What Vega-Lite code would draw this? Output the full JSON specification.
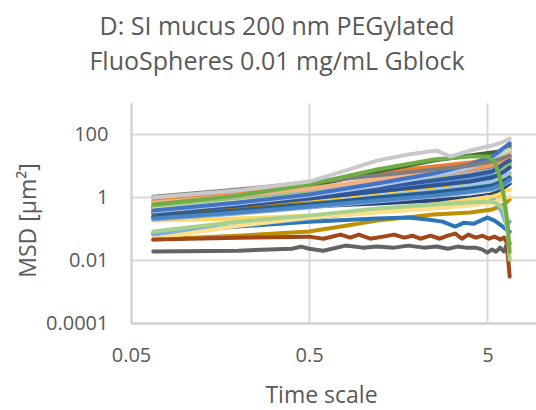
{
"$schema": "https://vega.github.io/schema/vega-lite/v6.json",
"autosize": "none",
"padding": {"left": 131, "top": 103, "right": 0, "bottom": 87},
"width": 410,
"height": 220,
"background": "white",
"title": {"text": ["D: SI mucus 200 nm PEGylated", "FluoSpheres 0.01 mg/mL Gblock"], "fontSize": 25, "font": "Open Sans", "fontWeight": "normal", "color": "#595959", "lineHeight": 35, "anchor": "middle", "frame": "group", "dx": -59, "baseline": "bottom", "offset": 3},
"config": {"view": {"stroke": null}, "font": "Open Sans"},
"data": {"values": [
{"s":"s01","t":0.0667,"v":0.406},{"s":"s01","t":0.2,"v":0.73},{"s":"s01","t":0.5,"v":1.31},{"s":"s01","t":1.2,"v":2.73},{"s":"s01","t":2.5,"v":4.91},{"s":"s01","t":4,"v":7.08},{"s":"s01","t":5.3,"v":9.5},{"s":"s01","t":5.8,"v":11.8},{"s":"s01","t":6.2,"v":14.7},{"s":"s01","t":6.67,"v":18.4},
{"s":"s02","t":0.0667,"v":0.785},{"s":"s02","t":0.2,"v":1.31},{"s":"s02","t":0.5,"v":2.36},{"s":"s02","t":1.2,"v":6.12},{"s":"s02","t":2.5,"v":9.5},{"s":"s02","t":4,"v":12.7},{"s":"s02","t":5.3,"v":17.1},{"s":"s02","t":5.8,"v":19.8},{"s":"s02","t":6.2,"v":22.9},{"s":"s02","t":6.67,"v":28.5},
{"s":"s03","t":0.0667,"v":0.506},{"s":"s03","t":0.2,"v":0.845},{"s":"s03","t":0.5,"v":1.41},{"s":"s03","t":1.2,"v":2.36},{"s":"s03","t":2.5,"v":3.66},{"s":"s03","t":4,"v":4.56},{"s":"s03","t":5.3,"v":6.58},{"s":"s03","t":5.8,"v":10.2},{"s":"s03","t":6.2,"v":12.7},{"s":"s03","t":6.67,"v":15.9},
{"s":"s04","t":0.0667,"v":0.303},{"s":"s04","t":0.2,"v":0.544},{"s":"s04","t":0.5,"v":0.909},{"s":"s04","t":1.2,"v":1.52},{"s":"s04","t":2.5,"v":2.04},{"s":"s04","t":4,"v":2.73},{"s":"s04","t":4.7,"v":2.54},{"s":"s04","t":5.3,"v":1.52},{"s":"s04","t":5.8,"v":1.05},{"s":"s04","t":6.2,"v":2.36},{"s":"s04","t":6.67,"v":5.28},
{"s":"s05","t":0.0667,"v":0.261},{"s":"s05","t":0.2,"v":0.47},{"s":"s05","t":0.5,"v":0.845},{"s":"s05","t":1.2,"v":1.52},{"s":"s05","t":2.5,"v":2.54},{"s":"s05","t":4,"v":3.66},{"s":"s05","t":5.3,"v":4.91},{"s":"s05","t":5.8,"v":6.58},{"s":"s05","t":6.2,"v":7.62},{"s":"s05","t":6.67,"v":10.2},
{"s":"s06","t":0.0667,"v":0.506},{"s":"s06","t":0.2,"v":0.977},{"s":"s06","t":0.5,"v":2.19},{"s":"s06","t":1.2,"v":6.58},{"s":"s06","t":2.5,"v":14.7},{"s":"s06","t":4,"v":21.3},{"s":"s06","t":5.3,"v":26.5},{"s":"s06","t":5.8,"v":28.5},{"s":"s06","t":6.2,"v":30.7},{"s":"s06","t":6.67,"v":35.6},
{"s":"s07","t":0.0667,"v":0.226},{"s":"s07","t":0.2,"v":0.377},{"s":"s07","t":0.5,"v":0.506},{"s":"s07","t":1.2,"v":0.63},{"s":"s07","t":2.5,"v":0.785},{"s":"s07","t":4,"v":0.977},{"s":"s07","t":5.3,"v":1.22},{"s":"s07","t":5.8,"v":1.52},{"s":"s07","t":6.2,"v":2.04},{"s":"s07","t":6.67,"v":2.73},
{"s":"s08","t":0.0667,"v":0.437},{"s":"s08","t":0.2,"v":0.785},{"s":"s08","t":0.5,"v":1.41},{"s":"s08","t":1.2,"v":2.73},{"s":"s08","t":2.5,"v":5.28},{"s":"s08","t":4,"v":8.83},{"s":"s08","t":5.3,"v":15.9},{"s":"s08","t":5.8,"v":22.9},{"s":"s08","t":6.2,"v":33.1},{"s":"s08","t":6.67,"v":44.3},
{"s":"s09","t":0.0667,"v":0.0187},{"s":"s09","t":0.2,"v":0.02},{"s":"s09","t":0.4,"v":0.023},{"s":"s09","t":0.45,"v":0.027},{"s":"s09","t":0.5,"v":0.023},{"s":"s09","t":0.6,"v":0.02},{"s":"s09","t":0.8,"v":0.029},{"s":"s09","t":1.0,"v":0.025},{"s":"s09","t":1.2,"v":0.027},{"s":"s09","t":1.5,"v":0.025},{"s":"s09","t":1.8,"v":0.029},{"s":"s09","t":2.2,"v":0.025},{"s":"s09","t":2.6,"v":0.027},{"s":"s09","t":3.0,"v":0.023},{"s":"s09","t":3.4,"v":0.027},{"s":"s09","t":3.8,"v":0.025},{"s":"s09","t":4.3,"v":0.025},{"s":"s09","t":4.7,"v":0.0217},{"s":"s09","t":5.0,"v":0.0174},{"s":"s09","t":5.3,"v":0.0217},{"s":"s09","t":5.6,"v":0.0187},{"s":"s09","t":5.9,"v":0.025},{"s":"s09","t":6.2,"v":0.0187},{"s":"s09","t":6.4,"v":0.029},{"s":"s09","t":6.67,"v":0.034},
{"s":"s10","t":0.0667,"v":0.045},{"s":"s10","t":0.2,"v":0.06},{"s":"s10","t":0.5,"v":0.081},{"s":"s10","t":0.8,"v":0.125},{"s":"s10","t":1.2,"v":0.181},{"s":"s10","t":2.5,"v":0.281},{"s":"s10","t":4,"v":0.326},{"s":"s10","t":5.3,"v":0.406},{"s":"s10","t":6.2,"v":0.585},{"s":"s10","t":6.67,"v":0.845},
{"s":"s11","t":0.0667,"v":0.07},{"s":"s11","t":0.2,"v":0.117},{"s":"s11","t":0.5,"v":0.168},{"s":"s11","t":1.2,"v":0.21},{"s":"s11","t":1.8,"v":0.226},{"s":"s11","t":2.3,"v":0.195},{"s":"s11","t":2.8,"v":0.168},{"s":"s11","t":3.3,"v":0.117},{"s":"s11","t":3.7,"v":0.156},{"s":"s11","t":4.2,"v":0.145},{"s":"s11","t":5,"v":0.226},{"s":"s11","t":5.5,"v":0.181},{"s":"s11","t":6,"v":0.125},{"s":"s11","t":6.4,"v":0.094},{"s":"s11","t":6.67,"v":0.081},
{"s":"s12","t":0.0667,"v":0.377},{"s":"s12","t":0.2,"v":0.63},{"s":"s12","t":0.5,"v":1.13},{"s":"s12","t":1.2,"v":2.04},{"s":"s12","t":2.5,"v":3.4},{"s":"s12","t":4,"v":4.91},{"s":"s12","t":5.3,"v":6.58},{"s":"s12","t":5.8,"v":8.2},{"s":"s12","t":6.2,"v":10.2},{"s":"s12","t":6.67,"v":12.7},
{"s":"s13","t":0.0667,"v":0.63},{"s":"s13","t":0.2,"v":1.05},{"s":"s13","t":0.5,"v":1.76},{"s":"s13","t":1.2,"v":3.16},{"s":"s13","t":2.5,"v":5.28},{"s":"s13","t":4,"v":7.62},{"s":"s13","t":5.3,"v":10.2},{"s":"s13","t":5.8,"v":12.7},{"s":"s13","t":6.2,"v":15.9},{"s":"s13","t":6.67,"v":19.8},
{"s":"s14","t":0.0667,"v":0.544},{"s":"s14","t":0.2,"v":0.909},{"s":"s14","t":0.5,"v":1.52},{"s":"s14","t":1.2,"v":2.73},{"s":"s14","t":2.5,"v":4.24},{"s":"s14","t":4,"v":5.69},{"s":"s14","t":5.3,"v":7.08},{"s":"s14","t":5.8,"v":5.28},{"s":"s14","t":6.2,"v":8.83},{"s":"s14","t":6.67,"v":13.7},
{"s":"s15","t":0.0667,"v":0.281},{"s":"s15","t":0.2,"v":0.437},{"s":"s15","t":0.5,"v":0.678},{"s":"s15","t":1.2,"v":1.13},{"s":"s15","t":2.5,"v":1.63},{"s":"s15","t":4,"v":2.19},{"s":"s15","t":5.3,"v":2.73},{"s":"s15","t":5.8,"v":3.16},{"s":"s15","t":6.2,"v":3.66},{"s":"s15","t":6.67,"v":4.24},
{"s":"s16","t":0.0667,"v":0.065},{"s":"s16","t":0.2,"v":0.125},{"s":"s16","t":0.5,"v":0.21},{"s":"s16","t":1.2,"v":0.351},{"s":"s16","t":2.5,"v":0.544},{"s":"s16","t":4,"v":0.73},{"s":"s16","t":5,"v":1.05},{"s":"s16","t":5.5,"v":0.845},{"s":"s16","t":6,"v":0.351},{"s":"s16","t":6.4,"v":0.135},{"s":"s16","t":6.67,"v":0.168},
{"s":"s17","t":0.0667,"v":0.47},{"s":"s17","t":0.2,"v":0.785},{"s":"s17","t":0.5,"v":1.31},{"s":"s17","t":1.2,"v":2.36},{"s":"s17","t":2.5,"v":3.66},{"s":"s17","t":4,"v":4.91},{"s":"s17","t":5.3,"v":6.58},{"s":"s17","t":5.8,"v":8.2},{"s":"s17","t":6.2,"v":9.5},{"s":"s17","t":6.67,"v":11.8},
{"s":"s18","t":0.0667,"v":0.351},{"s":"s18","t":0.2,"v":0.585},{"s":"s18","t":0.5,"v":1.05},{"s":"s18","t":1.2,"v":2.04},{"s":"s18","t":2.5,"v":3.4},{"s":"s18","t":4,"v":4.91},{"s":"s18","t":5.3,"v":6.58},{"s":"s18","t":5.8,"v":8.83},{"s":"s18","t":6.2,"v":11.8},{"s":"s18","t":6.67,"v":14.7},
{"s":"s19","t":0.0667,"v":0.678},{"s":"s19","t":0.2,"v":1.13},{"s":"s19","t":0.5,"v":1.89},{"s":"s19","t":1.2,"v":3.66},{"s":"s19","t":2.5,"v":6.58},{"s":"s19","t":4,"v":9.5},{"s":"s19","t":5.3,"v":13.7},{"s":"s19","t":5.8,"v":17.1},{"s":"s19","t":6.2,"v":21.3},{"s":"s19","t":6.67,"v":26.5},
{"s":"s20","t":0.0667,"v":0.326},{"s":"s20","t":0.2,"v":0.437},{"s":"s20","t":0.5,"v":0.63},{"s":"s20","t":1.2,"v":0.909},{"s":"s20","t":2.5,"v":1.31},{"s":"s20","t":4,"v":1.76},{"s":"s20","t":5.3,"v":2.19},{"s":"s20","t":5.8,"v":2.54},{"s":"s20","t":6.2,"v":2.94},{"s":"s20","t":6.67,"v":3.66},
{"s":"s21","t":0.0667,"v":0.21},{"s":"s21","t":0.2,"v":0.351},{"s":"s21","t":0.5,"v":0.585},{"s":"s21","t":1.2,"v":1.05},{"s":"s21","t":2.5,"v":1.63},{"s":"s21","t":4,"v":2.36},{"s":"s21","t":5.3,"v":3.16},{"s":"s21","t":5.8,"v":4.24},{"s":"s21","t":6.2,"v":4.91},{"s":"s21","t":6.67,"v":6.12},
{"s":"s22","t":0.0667,"v":0.181},{"s":"s22","t":0.2,"v":0.21},{"s":"s22","t":0.5,"v":0.261},{"s":"s22","t":1.2,"v":0.377},{"s":"s22","t":2.5,"v":0.585},{"s":"s22","t":4,"v":0.845},{"s":"s22","t":5.3,"v":1.05},{"s":"s22","t":5.8,"v":1.22},{"s":"s22","t":6.2,"v":1.52},{"s":"s22","t":6.67,"v":1.76},
{"s":"s23","t":0.0667,"v":0.195},{"s":"s23","t":0.2,"v":0.303},{"s":"s23","t":0.5,"v":0.47},{"s":"s23","t":1.2,"v":0.73},{"s":"s23","t":2.5,"v":1.05},{"s":"s23","t":4,"v":1.41},{"s":"s23","t":5.3,"v":1.76},{"s":"s23","t":5.8,"v":2.04},{"s":"s23","t":6.2,"v":2.54},{"s":"s23","t":6.67,"v":3.16},
{"s":"s24","t":0.0667,"v":0.243},{"s":"s24","t":0.2,"v":0.377},{"s":"s24","t":0.5,"v":0.585},{"s":"s24","t":1.2,"v":0.977},{"s":"s24","t":2.5,"v":1.41},{"s":"s24","t":4,"v":1.89},{"s":"s24","t":5.3,"v":2.36},{"s":"s24","t":5.8,"v":2.94},{"s":"s24","t":6.2,"v":3.4},{"s":"s24","t":6.67,"v":4.24},
{"s":"s25","t":0.0667,"v":0.326},{"s":"s25","t":0.2,"v":0.544},{"s":"s25","t":0.5,"v":0.909},{"s":"s25","t":1.2,"v":1.52},{"s":"s25","t":2.5,"v":2.36},{"s":"s25","t":4,"v":3.16},{"s":"s25","t":5.3,"v":4.24},{"s":"s25","t":5.8,"v":5.28},{"s":"s25","t":6.2,"v":6.58},{"s":"s25","t":6.67,"v":8.83},
{"s":"s26","t":0.0667,"v":0.21},{"s":"s26","t":0.2,"v":0.326},{"s":"s26","t":0.5,"v":0.506},{"s":"s26","t":1.2,"v":0.785},{"s":"s26","t":2.5,"v":1.13},{"s":"s26","t":4,"v":1.52},{"s":"s26","t":5.3,"v":1.89},{"s":"s26","t":5.8,"v":2.36},{"s":"s26","t":6.2,"v":2.73},{"s":"s26","t":6.67,"v":3.66},
{"s":"s27","t":0.0667,"v":0.048},{"s":"s27","t":0.2,"v":0.125},{"s":"s27","t":0.5,"v":0.226},{"s":"s27","t":1.2,"v":0.326},{"s":"s27","t":2.5,"v":0.437},{"s":"s27","t":4,"v":0.544},{"s":"s27","t":5.3,"v":0.678},{"s":"s27","t":5.8,"v":0.785},{"s":"s27","t":6.2,"v":0.909},{"s":"s27","t":6.67,"v":1.05},
{"s":"s28","t":0.0667,"v":0.406},{"s":"s28","t":0.2,"v":0.73},{"s":"s28","t":0.5,"v":1.22},{"s":"s28","t":1.2,"v":2.54},{"s":"s28","t":2.5,"v":5.28},{"s":"s28","t":4,"v":10.2},{"s":"s28","t":5.3,"v":18.4},{"s":"s28","t":5.8,"v":22.9},{"s":"s28","t":6.2,"v":26.5},{"s":"s28","t":6.67,"v":33.1},
{"s":"s29","t":0.0667,"v":0.351},{"s":"s29","t":0.2,"v":0.63},{"s":"s29","t":0.5,"v":1.13},{"s":"s29","t":1.2,"v":2.36},{"s":"s29","t":2.5,"v":4.91},{"s":"s29","t":4,"v":8.83},{"s":"s29","t":5.3,"v":15.9},{"s":"s29","t":5.8,"v":24.6},{"s":"s29","t":6.2,"v":35.6},{"s":"s29","t":6.67,"v":55.2},
{"s":"s30","t":0.0667,"v":0.377},{"s":"s30","t":0.2,"v":0.678},{"s":"s30","t":0.5,"v":1.22},{"s":"s30","t":1.2,"v":2.73},{"s":"s30","t":2.5,"v":5.69},{"s":"s30","t":4,"v":11.0},{"s":"s30","t":5.3,"v":19.8},{"s":"s30","t":5.8,"v":28.5},{"s":"s30","t":6.2,"v":38.3},{"s":"s30","t":6.67,"v":51.3},
{"s":"s31","t":0.0667,"v":0.045},{"s":"s31","t":0.2,"v":0.052},{"s":"s31","t":0.5,"v":0.056},{"s":"s31","t":0.6,"v":0.048},{"s":"s31","t":0.75,"v":0.065},{"s":"s31","t":0.85,"v":0.052},{"s":"s31","t":0.95,"v":0.065},{"s":"s31","t":1.1,"v":0.048},{"s":"s31","t":1.3,"v":0.056},{"s":"s31","t":1.5,"v":0.065},{"s":"s31","t":1.7,"v":0.052},{"s":"s31","t":1.9,"v":0.06},{"s":"s31","t":2.1,"v":0.048},{"s":"s31","t":2.4,"v":0.06},{"s":"s31","t":2.7,"v":0.048},{"s":"s31","t":3.0,"v":0.06},{"s":"s31","t":3.3,"v":0.07},{"s":"s31","t":3.6,"v":0.048},{"s":"s31","t":3.9,"v":0.065},{"s":"s31","t":4.3,"v":0.052},{"s":"s31","t":4.7,"v":0.06},{"s":"s31","t":5.1,"v":0.048},{"s":"s31","t":5.5,"v":0.056},{"s":"s31","t":5.9,"v":0.045},{"s":"s31","t":6.2,"v":0.052},{"s":"s31","t":6.4,"v":0.039},{"s":"s31","t":6.55,"v":0.0104},{"s":"s31","t":6.67,"v":0.003},
{"s":"s32","t":0.0667,"v":0.081},{"s":"s32","t":0.2,"v":0.168},{"s":"s32","t":0.5,"v":0.261},{"s":"s32","t":1.2,"v":0.437},{"s":"s32","t":2.5,"v":0.585},{"s":"s32","t":4,"v":0.678},{"s":"s32","t":5.3,"v":0.73},{"s":"s32","t":5.8,"v":0.585},{"s":"s32","t":6.2,"v":0.406},{"s":"s32","t":6.5,"v":0.081},{"s":"s32","t":6.67,"v":0.0104},
{"s":"s33","t":0.0667,"v":1.05},{"s":"s33","t":0.2,"v":1.76},{"s":"s33","t":0.5,"v":2.94},{"s":"s33","t":1.2,"v":4.91},{"s":"s33","t":2.5,"v":7.62},{"s":"s33","t":4,"v":10.2},{"s":"s33","t":5.3,"v":13.7},{"s":"s33","t":5.8,"v":15.9},{"s":"s33","t":6.2,"v":18.4},{"s":"s33","t":6.67,"v":21.3},
{"s":"s34","t":0.0667,"v":0.585},{"s":"s34","t":0.2,"v":1.13},{"s":"s34","t":0.5,"v":2.54},{"s":"s34","t":1.2,"v":7.62},{"s":"s34","t":2.5,"v":15.9},{"s":"s34","t":4,"v":19.8},{"s":"s34","t":5,"v":19.8},{"s":"s34","t":5.5,"v":13.7},{"s":"s34","t":5.8,"v":5.28},{"s":"s34","t":6.2,"v":1.05},{"s":"s34","t":6.5,"v":0.135},{"s":"s34","t":6.67,"v":0.0187},
{"s":"s35","t":0.0667,"v":0.977},{"s":"s35","t":0.2,"v":1.63},{"s":"s35","t":0.5,"v":3.16},{"s":"s35","t":0.8,"v":7.08},{"s":"s35","t":1.2,"v":14.7},{"s":"s35","t":1.8,"v":22.9},{"s":"s35","t":2.6,"v":30.7},{"s":"s35","t":3.1,"v":19.8},{"s":"s35","t":4,"v":30.7},{"s":"s35","t":5.3,"v":44.3},{"s":"s35","t":6.2,"v":59.4},{"s":"s35","t":6.67,"v":73.6}
]},
"mark": {"type": "line", "strokeWidth": 4, "strokeJoin": "round", "strokeCap": "round", "clip": true},
"encoding": {
"x": {"field": "t", "type": "quantitative", "scale": {"type": "log", "domain": [0.05, 10], "nice": false},
 "axis": {"values": [0.05, 0.5, 5], "format": "~g", "title": "Time scale", "grid": true, "gridColor": "#d9d9d9", "gridWidth": 2, "domainColor": "#d0d0d0", "domainWidth": 2, "ticks": false, "tickSize": 0, "labelFont": "Open Sans", "labelFontSize": 20, "labelColor": "#595959", "labelPadding": 22, "labelFlush": false, "labelOverlap": false, "titleFont": "Open Sans", "titleFontSize": 23, "titleFontWeight": "normal", "titleColor": "#595959", "titleX": 190, "titleY": 61, "titleBaseline": "top"}},
"y": {"field": "v", "type": "quantitative", "scale": {"type": "log", "domain": [0.0001, 1000], "nice": false},
 "axis": {"values": [0.0001, 0.01, 1, 100], "format": "~g", "title": "MSD [μm²]", "grid": true, "gridColor": "#d9d9d9", "gridWidth": 2, "domainColor": "#d0d0d0", "domainWidth": 2, "ticks": false, "tickSize": 0, "labelFont": "Open Sans", "labelFontSize": 20, "labelColor": "#595959", "labelPadding": 23, "labelFlush": false, "labelOverlap": false, "titleFont": "Open Sans", "titleFontSize": 23, "titleFontWeight": "normal", "titleColor": "#595959", "titleX": -103, "titleY": 117, "titleBaseline": "middle"}},
"color": {"field": "s", "type": "nominal", "legend": null,
 "scale": {"domain": ["s01","s02","s03","s04","s05","s06","s07","s08","s09","s10","s11","s12","s13","s14","s15","s16","s17","s18","s19","s20","s21","s22","s23","s24","s25","s26","s27","s28","s29","s30","s31","s32","s33","s34","s35"],
  "range": ["#4472C4","#ED7D31","#A5A5A5","#FFC000","#5B9BD5","#43682B","#264478","#9E480E","#636363","#BF9000","#2E75B6","#698ED0","#F1975A","#B7B7B7","#FFCD33","#7CAFDD","#8CC168","#335AA1","#F4B183","#997300","#9DC3E6","#FFD966","#8FAADC","#255E91","#2F5597","#4A86C5","#FFE08A","#C5E0B4","#A9C8EA","#4472C4","#A0481A","#A9D18E","#7F7F7F","#70AD47","#C9C9C9"]}}
}
}
